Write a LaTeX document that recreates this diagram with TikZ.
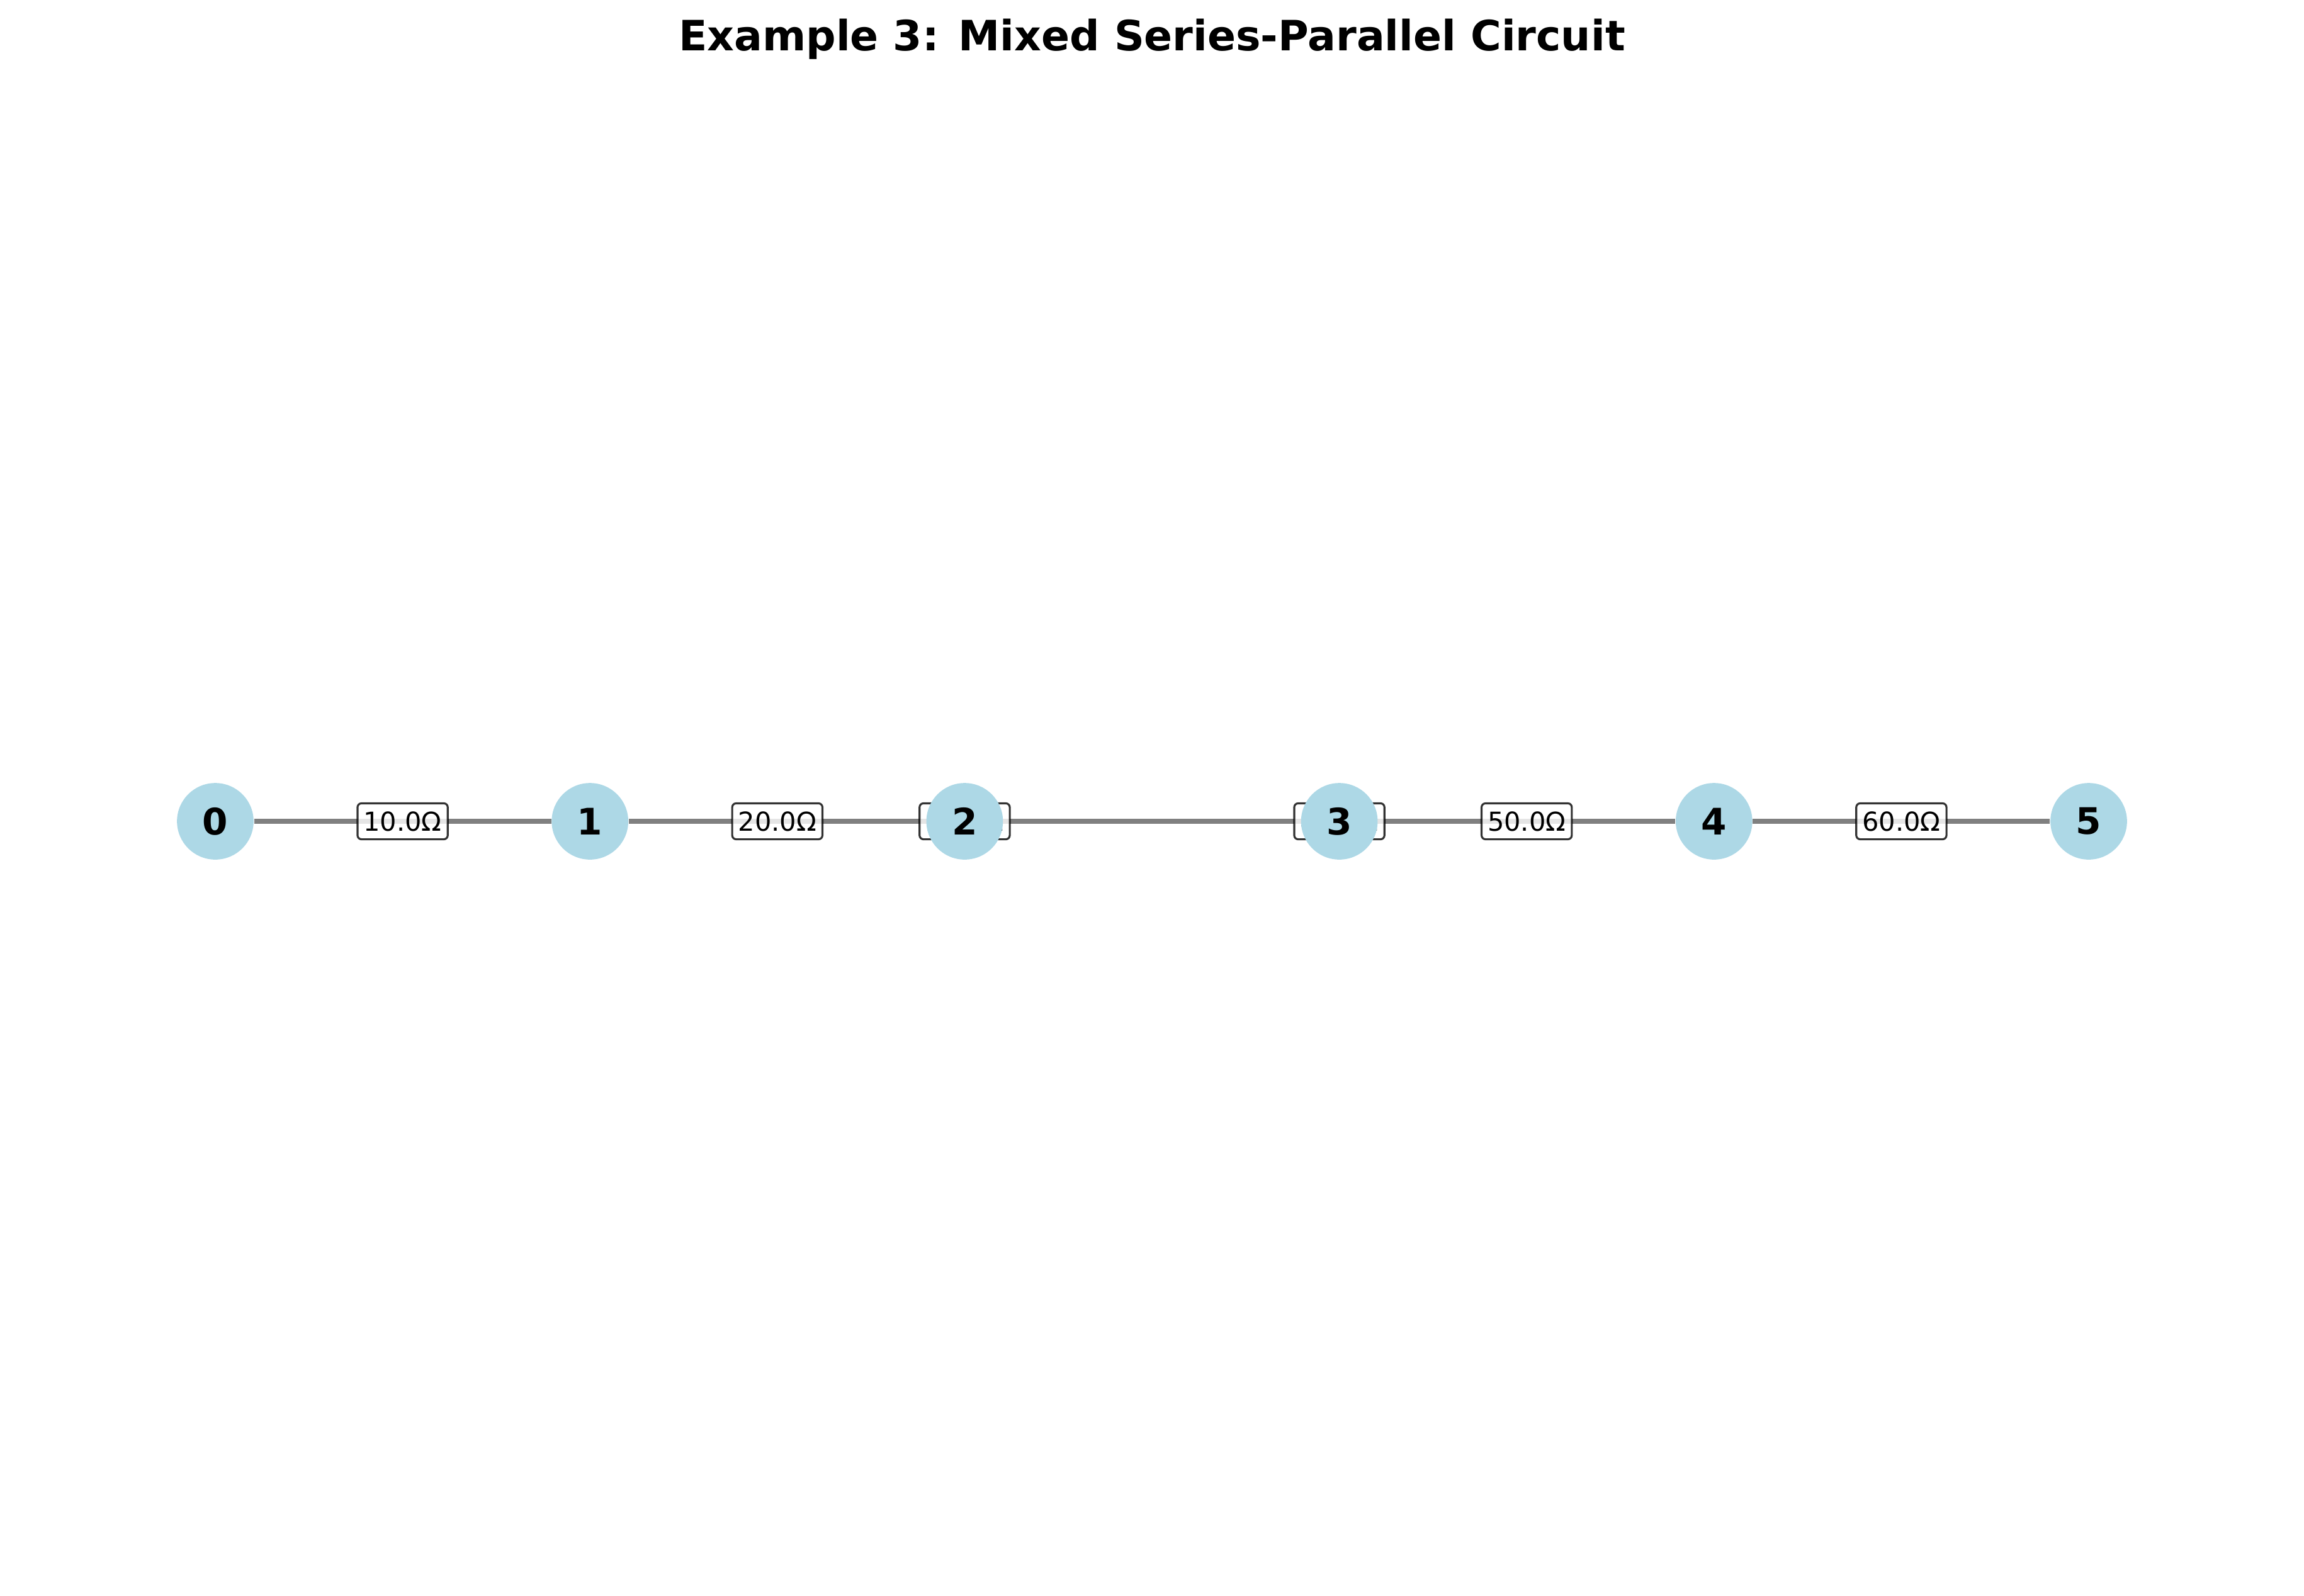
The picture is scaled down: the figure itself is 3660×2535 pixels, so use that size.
\documentclass[tikz,border=0pt]{standalone}
\usepackage{fontspec}
\setmainfont{DejaVu Sans}
\usetikzlibrary{backgrounds}
\definecolor{nodeblue}{HTML}{ADD8E6}
\tikzset{
    vertex/.style={circle, fill=nodeblue, minimum size=29.2bp, inner sep=0pt,
        font=\fontsize{14}{16}\selectfont\bfseries},
    wire/.style={draw=gray, line width=2bp},
    ohms/.style={draw=black, draw opacity=0.8, fill=white, fill opacity=0.8,
        text opacity=1, line width=0.75bp, rounded corners=1.5bp,
        inner xsep=2.3bp, inner ysep=0pt, minimum height=13.7bp,
        font=\fontsize{10}{12}\selectfont}
}
\begin{document}
\begin{tikzpicture}[x=0.24bp, y=-0.24bp]
\useasboundingbox (0,0) rectangle (3660,2535);

\node (title) [anchor=base,
    font=\fontsize{16}{19}\selectfont\bfseries
] at (1830,80) {Example 3: Mixed Series-Parallel Circuit};

\node (n0) [vertex] at (342,1305) {0};
\node (n1) [vertex] at (937.2,1305) {1};
\node (n2) [vertex] at (1532.4,1305) {2};
\node (n3) [vertex] at (2127.6,1305) {3};
\node (n4) [vertex] at (2722.8,1305) {4};
\node (n5) [vertex] at (3318,1305) {5};

\begin{scope}[on background layer]
% wires first
\draw [wire](n0) -- (n1);
\draw [wire](n1) -- (n2);
\draw [wire](n1) -- (n3);
\draw [wire](n2) -- (n4);
\draw [wire](n3) -- (n4);
\draw [wire](n4) -- (n5);

% then the resistor labels
\path (n0) -- node[midway,ohms]{10.0Ω}(n1);
\path (n1) -- node[midway,ohms]{20.0Ω}(n2);
\path (n1) -- node[midway,ohms]{30.0Ω}(n3);
\path (n2) -- node[midway,ohms]{40.0Ω}(n4);
\path (n3) -- node[midway,ohms]{50.0Ω}(n4);
\path (n4) -- node[midway,ohms]{60.0Ω}(n5);
\end{scope}

\end{tikzpicture}
\end{document}
